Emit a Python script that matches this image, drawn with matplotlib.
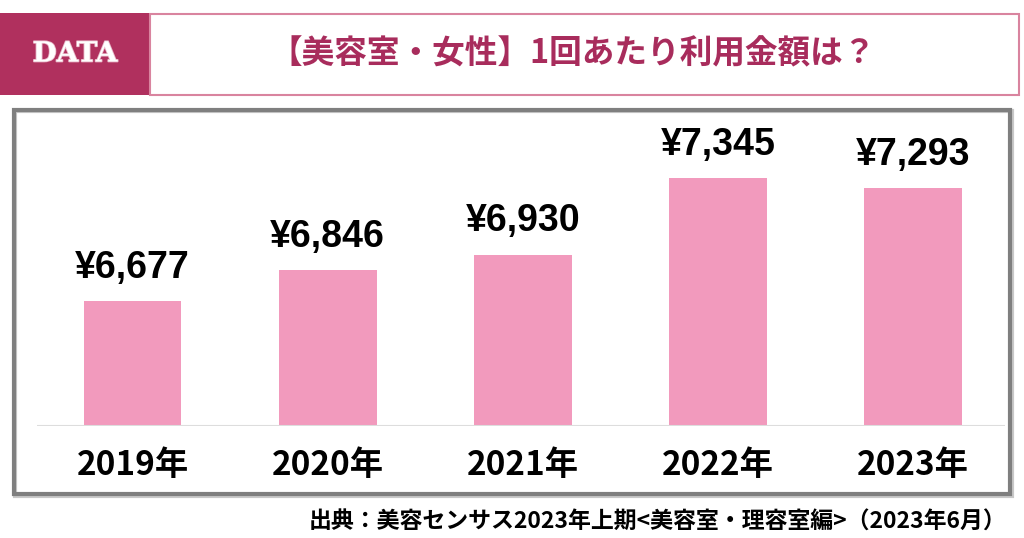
import matplotlib.pyplot as plt
from matplotlib.patches import Rectangle
import matplotlib.patheffects as pe

plt.rcParams['font.family'] = ['Noto Sans CJK JP', 'DejaVu Sans']

# データ
years = ['2019年', '2020年', '2021年', '2022年', '2023年']
amounts = [6677, 6846, 6930, 7345, 7293]
value_labels = ['¥6,677', '¥6,846', '¥6,930', '¥7,345', '¥7,293']

title = '【美容室・女性】1回あたり利用金額は？'
source = '出典：美容センサス2023年上期<美容室・理容室編>（2023年6月）'

W, H = 1024, 538
fig = plt.figure(figsize=(W / 100, H / 100), dpi=100)

# 背景用のピクセル座標の軸
bg = fig.add_axes([0, 0, 1, 1])
bg.set_xlim(0, W)
bg.set_ylim(H, 0)
bg.axis('off')

# ヘッダー
bg.add_patch(Rectangle((0, 13), 150, 82, facecolor='#B0305E', edgecolor='none'))
bg.add_patch(Rectangle((150, 13.5), 869, 81, facecolor='white',
                       edgecolor='#D9849F', linewidth=1.5))
bg.text(75, 54, 'DATA', color='white', fontsize=20, fontweight='bold',
        family='DejaVu Serif', ha='center', va='center',
        path_effects=[pe.withStroke(linewidth=1.2, foreground='#E8B8C8')])
bg.text(573, 54, title, color='#A82C5C', fontsize=23.5, fontweight='bold',
        ha='center', va='center')

# グレーの枠
bg.add_patch(Rectangle((15, 111), 997, 385, facecolor='none',
                       edgecolor='#C8C8C8', linewidth=3))
bg.add_patch(Rectangle((14, 110), 996, 384, facecolor='none',
                       edgecolor='#7F7F7F', linewidth=3))

# 出典
bg.text(1006, 522, source, color='black', fontsize=16.5, fontweight='bold',
        ha='right', va='center')

# 棒グラフ
base_px = 426
top_px = 120
ax = fig.add_axes([37 / W, (H - base_px) / H, (1005 - 37) / W, (base_px - top_px) / H])
ax.set_xlim(-0.49, 4.47)
ax.set_ylim(6000, 6000 + (base_px - top_px) / 0.18413)
ax.patch.set_alpha(0)
for s in ax.spines.values():
    s.set_visible(False)
ax.set_xticks([])
ax.set_yticks([])

x = list(range(len(years)))
ax.bar(x, [a - 6000 for a in amounts], bottom=6000, width=0.5, color='#F29ABD')
ax.axhline(6000, color='#DDDDDD', linewidth=1.5)

for i, (v, lab) in enumerate(zip(amounts, value_labels)):
    ax.annotate(lab, (i, v), xytext=(0, 11), textcoords='offset points',
                ha='center', va='bottom', fontsize=27, fontweight='bold',
                family=['Liberation Sans', 'DejaVu Sans'])
    ax.text(i, -(465 - base_px) / (base_px - top_px), years[i],
            transform=ax.get_xaxis_transform(), ha='center', va='center',
            fontsize=24, fontweight='bold')

fig.savefig('out.png', dpi=100)
